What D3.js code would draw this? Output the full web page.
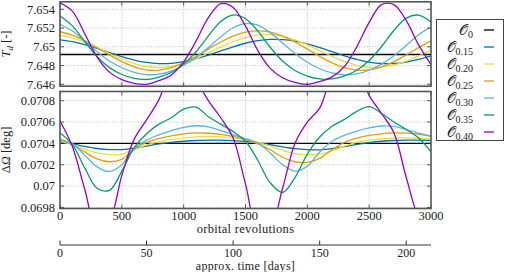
<!DOCTYPE html>
<html><head><meta charset="utf-8">
<script src="https://cdn.jsdelivr.net/npm/d3@7"></script>
<style>
body{margin:0;background:#fff}
svg{display:block}
text{font-family:"Liberation Serif","DejaVu Serif",serif;fill:#222}
</style>
</head><body>
<svg id="c" width="505" height="272"></svg>
<script>
// ---------- data ----------
const revs = [0,100,200,300,400,500,600,700,800,900,1000,1100,1200,1300,1400,1500,1600,1700,1800,1900,2000,2100,2200,2300,2400,2500,2600,2700,2800,2900,3000];
const seriesNames = ["0","0.15","0.20","0.25","0.30","0.35","0.40"];
const seriesColors = ["#000000","#0072B2","#E8DF3A","#E69F00","#56B4E9","#009E73","#9400D3"];

// top panel: T_d
const tdO000 = [7.64918,7.64918,7.64918,7.64918,7.64918,7.64918,7.64918,7.64918,7.64918,7.64918,7.64918,7.64918,7.64918,7.64918,7.64918,7.64918,7.64918,7.64918,7.64918,7.64918,7.64918,7.64918,7.64918,7.64918,7.64918,7.64918,7.64918,7.64918,7.64918,7.64918,7.64918];
const tdO015 = [7.65075,7.65056,7.65024,7.64983,7.64939,7.64896,7.64859,7.64833,7.64821,7.64824,7.64842,7.64873,7.64912,7.64957,7.65,7.65038,7.65065,7.65079,7.65077,7.65061,7.65031,7.64992,7.64948,7.64904,7.64866,7.64837,7.64822,7.64822,7.64837,7.64865,7.64903];
const tdO020 = [7.65123,7.65095,7.65049,7.64991,7.64929,7.64869,7.64821,7.6479,7.6478,7.64792,7.64825,7.64875,7.64935,7.64997,7.65054,7.65098,7.65125,7.65129,7.65111,7.65074,7.65021,7.6496,7.64898,7.64844,7.64803,7.64782,7.64783,7.64806,7.64848,7.64904,7.64965];
const tdO025 = [7.65161,7.65124,7.65065,7.64991,7.64913,7.64842,7.64787,7.64755,7.64752,7.64778,7.64829,7.64898,7.64976,7.65051,7.65114,7.65156,7.6517,7.65156,7.65114,7.65051,7.64976,7.64898,7.64829,7.64778,7.64752,7.64755,7.64787,7.64842,7.64913,7.64991,7.65065];
const tdO030 = [7.65239,7.65168,7.65063,7.64948,7.64849,7.64777,7.64728,7.64704,7.64708,7.64741,7.64805,7.64884,7.64992,7.65107,7.65203,7.65247,7.65231,7.65151,7.65041,7.64928,7.64835,7.64766,7.64722,7.64701,7.64712,7.6475,7.64816,7.64904,7.65014,7.65129,7.65214];
const tdO035 = [7.65328,7.65223,7.65057,7.64895,7.64778,7.64705,7.64663,7.64652,7.64678,7.64726,7.64816,7.64947,7.65116,7.65271,7.65339,7.65299,7.65168,7.64995,7.64848,7.64747,7.64688,7.64657,7.64658,7.6469,7.6475,7.64854,7.65002,7.65174,7.65306,7.65338,7.65264];
const tdO040 = [7.6547,7.6538,7.6514,7.6489,7.6473,7.6465,7.6461,7.646,7.6464,7.647,7.6484,7.6506,7.6531,7.6546,7.6542,7.6522,7.6496,7.6477,7.6467,7.6462,7.646,7.6463,7.6468,7.6479,7.65,7.6526,7.6545,7.6545,7.6528,7.6502,7.6481];

// bottom panel: Delta Omega [deg]
const dOmO000 = [0.0704,0.0704,0.0704,0.0704,0.0704,0.0704,0.0704,0.0704,0.0704,0.0704,0.0704,0.0704,0.0704,0.0704,0.0704,0.0704,0.0704,0.0704,0.0704,0.0704,0.0704,0.0704,0.0704,0.0704,0.0704,0.0704,0.0704,0.0704,0.0704,0.0704,0.0704];
const dOmO015 = [0.07041,0.070395,0.070372,0.070352,0.070342,0.070342,0.070355,0.070375,0.070395,0.07041,0.07042,0.070427,0.07043,0.07043,0.070426,0.070418,0.070405,0.070388,0.070368,0.07035,0.070342,0.07034,0.07035,0.07037,0.07039,0.070408,0.07042,0.070427,0.07043,0.07043,0.070428];
const dOmO020 = [0.07042,0.07039,0.070345,0.07031,0.070295,0.0703,0.07034,0.070385,0.070415,0.070435,0.07045,0.07046,0.070465,0.07046,0.07045,0.070435,0.07041,0.070375,0.070335,0.070305,0.070294,0.0703,0.07033,0.070375,0.07041,0.07043,0.070442,0.07045,0.070452,0.070448,0.070442];
const dOmO025 = [0.07043,0.07039,0.07032,0.070255,0.070228,0.07025,0.07035,0.07041,0.070445,0.07047,0.07049,0.070498,0.070495,0.070485,0.070465,0.070435,0.070395,0.07034,0.07027,0.070228,0.070222,0.07026,0.07034,0.07041,0.07045,0.070475,0.07049,0.070498,0.070496,0.070485,0.070466];
const dOmO030 = [0.070441,0.070395,0.07029,0.07018,0.070137,0.0702,0.07035,0.07043,0.07048,0.07052,0.07055,0.070565,0.070555,0.07052,0.07048,0.070445,0.070405,0.07031,0.0702,0.07014,0.070185,0.07032,0.07042,0.070475,0.070515,0.070545,0.070563,0.07056,0.07053,0.070495,0.07047];
const dOmO035 = [0.070498,0.07039,0.07017,0.06998,0.06996,0.07014,0.07036,0.07049,0.07058,0.07064,0.07072,0.07074,0.07065,0.07058,0.07051,0.07042,0.07024,0.07003,0.06994,0.07008,0.0703,0.07046,0.07056,0.070625,0.0707,0.070745,0.07068,0.0706,0.07053,0.07045,0.07032];
const dOmO040 = [0.07061,0.07037,0.06997,0.0696,0.06968,0.0701,0.07044,0.07062,0.07081,0.0711,0.0712,0.071,0.0708,0.07064,0.07045,0.07002,0.0696,0.06962,0.06998,0.0704,0.0706,0.07073,0.07105,0.0712,0.07112,0.07085,0.07068,0.0705,0.07008,0.0697,0.06952];

const topSeries = [tdO000,tdO015,tdO020,tdO025,tdO030,tdO035,tdO040];
const botSeries = [dOmO000,dOmO015,dOmO020,dOmO025,dOmO030,dOmO035,dOmO040];

const revTicks = [0,500,1000,1500,2000,2500,3000];
const tdTicks = [7.646,7.648,7.65,7.652,7.654];
const tdTickLabels = ["7.646","7.648","7.65","7.652","7.654"];
const dOmTicks = [0.0698,0.07,0.0702,0.0704,0.0706,0.0708];
const dOmTickLabels = ["0.0698","0.07","0.0702","0.0704","0.0706","0.0708"];
const dayTicks = [0,50,100,150,200];
const daysAt3000 = 214.3;

// ---------- layout ----------
const svg = d3.select("#c");
const L = 60, R = 431;
const topP = {y0: 1.8, y1: 86.2};
const botP = {y0: 91.5, y1: 208.5};
const x = d3.scaleLinear().domain([0,3000]).range([L,R]);
const yT = d3.scaleLinear().domain([7.6458,7.6548]).range([topP.y1, topP.y0]);
const yB = d3.scaleLinear().domain([0.06979,0.070886]).range([botP.y1, botP.y0]);
const fs = 12.5;

function panel(id, y, P, ticks, labels, series){
  const g = svg.append("g");
  g.append("clipPath").attr("id", id).append("rect")
    .attr("x", L).attr("y", P.y0).attr("width", R-L).attr("height", P.y1-P.y0);
  const grid = g.append("g").attr("stroke","#b0b0b0").attr("stroke-width",0.8).attr("stroke-dasharray","1,1.6");
  revTicks.slice(1,-1).forEach(t => grid.append("line").attr("x1",x(t)).attr("x2",x(t)).attr("y1",P.y0).attr("y2",P.y1));
  ticks.forEach(t => grid.append("line").attr("x1",L).attr("x2",R).attr("y1",y(t)).attr("y2",y(t)));
  const line = d3.line().x((d,i)=>x(revs[i])).y(d=>y(d)).curve(d3.curveCatmullRom.alpha(0.5));
  const lg = g.append("g").attr("clip-path",`url(#${id})`);
  series.forEach((s,k)=>{
    lg.append("path").attr("d", line(s)).attr("fill","none")
      .attr("stroke", seriesColors[k]).attr("stroke-width", 1.3);
  });
  const tk = g.append("g").attr("stroke","#333").attr("stroke-width",0.8);
  ticks.forEach(t => {
    tk.append("line").attr("x1",L).attr("x2",L+4).attr("y1",y(t)).attr("y2",y(t));
    tk.append("line").attr("x1",R-4).attr("x2",R).attr("y1",y(t)).attr("y2",y(t));
  });
  revTicks.forEach(t => {
    tk.append("line").attr("x1",x(t)).attr("x2",x(t)).attr("y1",P.y1).attr("y2",P.y1-4);
    tk.append("line").attr("x1",x(t)).attr("x2",x(t)).attr("y1",P.y0).attr("y2",P.y0+4);
  });
  g.append("rect").attr("x",L).attr("y",P.y0).attr("width",R-L).attr("height",P.y1-P.y0)
    .attr("fill","none").attr("stroke","#555").attr("stroke-width",1.6);
  ticks.forEach((t,i)=>{
    g.append("text").attr("x",L-5).attr("y",y(t)).attr("dy","0.35em")
      .attr("text-anchor","end").attr("font-size",fs).text(labels[i]);
  });
}
panel("clipT", yT, topP, tdTicks, tdTickLabels, topSeries);
panel("clipB", yB, botP, dOmTicks, dOmTickLabels, botSeries);

revTicks.forEach(t=>{
  svg.append("text").attr("x",x(t)).attr("y",216).attr("dy","0.35em")
    .attr("text-anchor","middle").attr("font-size",fs).text(t);
});
svg.append("text").attr("x",(L+R)/2).attr("y",228.5).attr("dy","0.35em")
  .attr("text-anchor","middle").attr("font-size",fs).attr("letter-spacing","0.3").text("orbital revolutions");

const xd = d3.scaleLinear().domain([0,daysAt3000]).range([L,R]);
const ta = svg.append("g");
ta.append("line").attr("x1",L).attr("x2",R).attr("y1",245).attr("y2",245).attr("stroke","#333").attr("stroke-width",1);
dayTicks.forEach(t=>{
  ta.append("line").attr("x1",xd(t)).attr("x2",xd(t)).attr("y1",245).attr("y2",240.5).attr("stroke","#333").attr("stroke-width",1);
  ta.append("text").attr("x",xd(t)).attr("y",252.5).attr("dy","0.35em")
    .attr("text-anchor","middle").attr("font-size",12).text(t);
});
svg.append("text").attr("x",(L+R)/2).attr("y",266).attr("dy","0.35em")
  .attr("text-anchor","middle").attr("font-size",12).attr("letter-spacing","0.3").text("approx. time [days]");

const yt1 = svg.append("text").attr("transform",`translate(10,${(topP.y0+topP.y1)/2}) rotate(-90)`)
  .attr("text-anchor","middle").attr("font-size",fs);
yt1.append("tspan").attr("font-style","italic").text("T");
yt1.append("tspan").attr("font-style","italic").attr("font-size",9).attr("dy",2.5).text("d");
yt1.append("tspan").attr("dy",-2.5).text(" [-]");
const yt2 = svg.append("text").attr("transform",`translate(10,${(botP.y0+botP.y1)/2}) rotate(-90)`)
  .attr("text-anchor","middle").attr("font-size",fs);
yt2.append("tspan").text("Δ");
yt2.append("tspan").attr("font-style","italic").text("Ω");
yt2.append("tspan").text(" [deg]");

const lgd = svg.append("g");
lgd.append("rect").attr("x",436.5).attr("y",19.5).attr("width",67).attr("height",121)
  .attr("fill","#fff").attr("stroke","#444").attr("stroke-width",1);
const legY = d3.scalePoint().domain(seriesNames).range([30,132]);
seriesNames.forEach((n,k)=>{
  const yy = legY(n);
  const t = lgd.append("text").attr("x",473).attr("y",yy).attr("dy","0.35em")
    .attr("text-anchor","end").attr("font-size",13.5);
  t.append("tspan").text("𝒪");
  t.append("tspan").attr("font-size",10).attr("dy",3).text(n);
  lgd.append("line").attr("x1",484).attr("x2",494).attr("y1",yy).attr("y2",yy)
    .attr("stroke",seriesColors[k]).attr("stroke-width",1.3);
});
</script>
</body></html>
